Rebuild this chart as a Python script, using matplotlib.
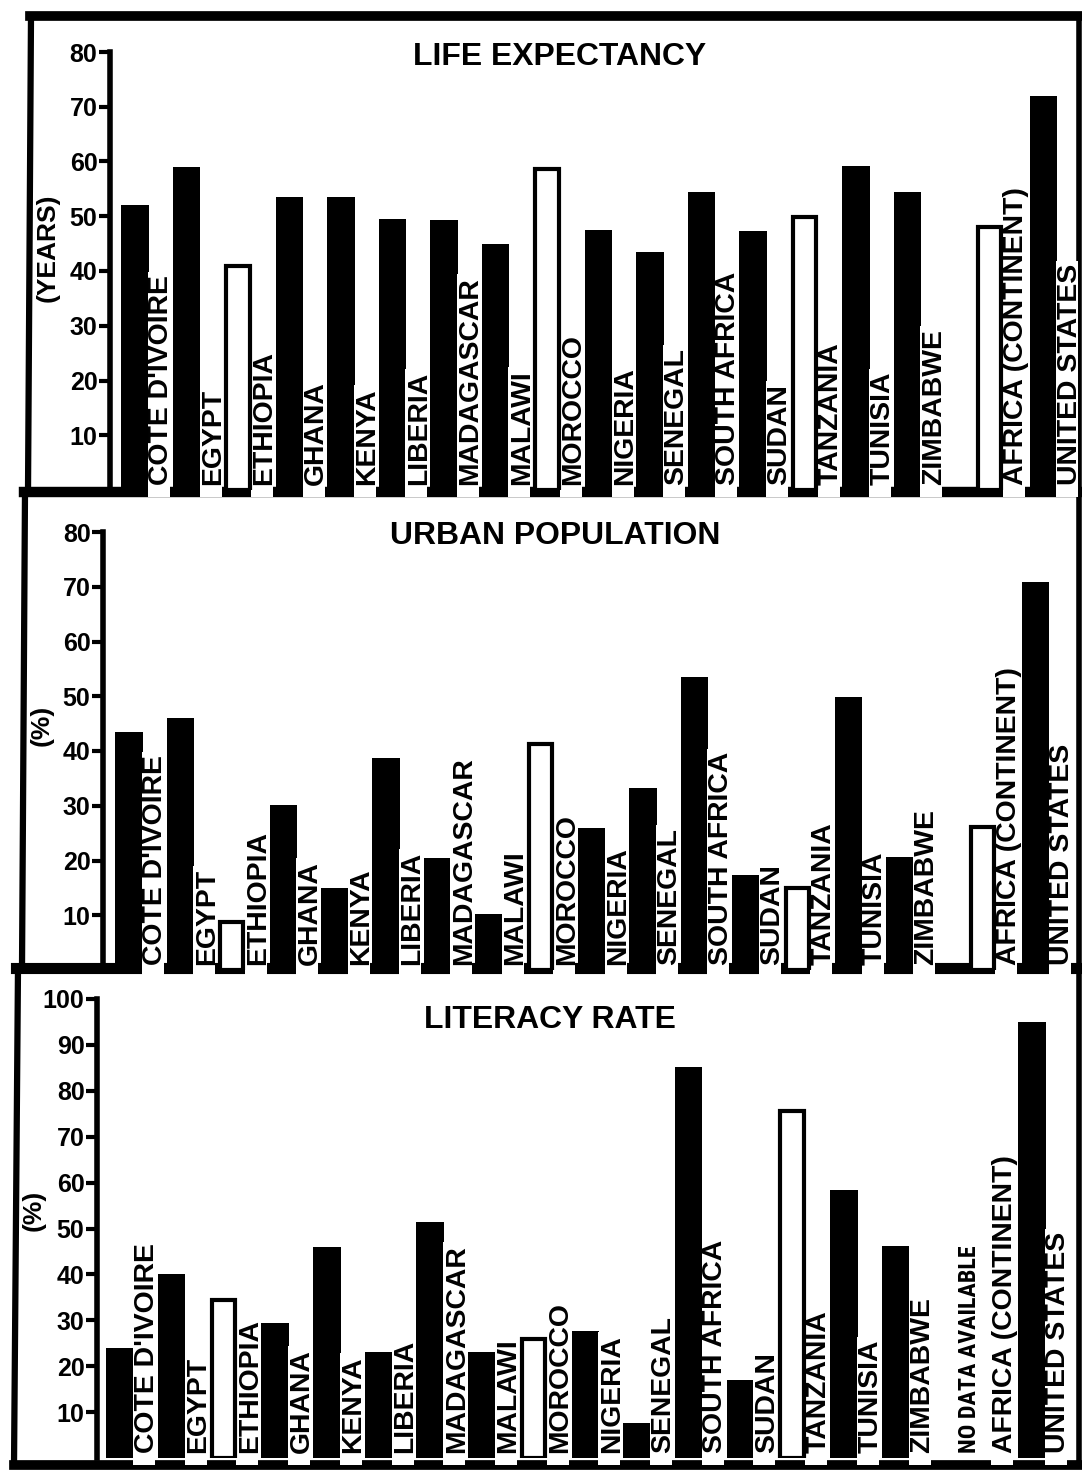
import numpy as np
import matplotlib
matplotlib.use("Agg")
import matplotlib.pyplot as plt
from matplotlib import font_manager
from matplotlib.font_manager import FontProperties
from matplotlib.patches import Rectangle
from matplotlib.transforms import offset_copy

# ---------------- data ----------------
countries = ["COTE D'IVOIRE", "EGYPT", "ETHIOPIA", "GHANA", "KENYA", "LIBERIA",
             "MADAGASCAR", "MALAWI", "MOROCCO", "NIGERIA", "SENEGAL",
             "SOUTH AFRICA", "SUDAN", "TANZANIA", "TUNISIA", "ZIMBABWE",
             "AFRICA (CONTINENT)", "UNITED STATES"]
life_expectancy = [52, 59, 41, 53.5, 53.5, 49.5, 49.3, 45, 58.7, 47.5, 43.5,
                   54.4, 47.3, 49.8, 59.2, 54.4, 48, 72]
urban_population = [43.5, 46, 8.8, 30.2, 15, 38.8, 20.5, 10.3, 41.3, 26, 33.3,
                    53.6, 17.4, 15, 49.9, 20.7, 26.1, 70.9]
literacy_rate = [24, 40, 34.5, 29.5, 46, 23, 51.4, 23.2, 26, 27.6, 7.6,
                 85.2, 17, 75.5, 58.4, 46.2, None, 95]
hollow_countries = ["ETHIOPIA", "MOROCCO", "TANZANIA", "AFRICA (CONTINENT)"]
no_data_text = "NO DATA AVAILABLE"
titles = ["LIFE EXPECTANCY", "URBAN POPULATION", "LITERACY RATE"]
axis_labels = ["(YEARS)", "(%)", "(%)"]
ticks_80 = [10, 20, 30, 40, 50, 60, 70, 80]
ticks_100 = [10, 20, 30, 40, 50, 60, 70, 80, 90, 100]

# ---------------- fonts ----------------
names = {f.name for f in font_manager.fontManager.ttflist}
main_family = 'Liberation Sans' if 'Liberation Sans' in names else 'DejaVu Sans'
label_family = main_family
narrow_family = next((n for n in ['Liberation Sans Narrow', 'Arial Narrow',
                                  'Roboto Condensed'] if n in names), main_family)
plt.rcParams['font.family'] = [main_family, 'DejaVu Sans']

W, H = 1082, 1476
fig = plt.figure(figsize=(W / 100, H / 100), dpi=100)
fig.patch.set_facecolor('white')
renderer = fig.canvas.get_renderer()


def text_extent(s, family, weight, size):
    fp = FontProperties(family=family, weight=weight, size=size)
    w, h, d = renderer.get_text_width_height_descent(s, fp, ismath=False)
    return w, h - d


def fit_width(s, target_px, family, weight):
    return 20.0 * target_px / text_extent(s, family, weight, 20.0)[0]


label_size = fit_width("COTE D'IVOIRE", 210, label_family, 'bold')
cap = text_extent("H", label_family, 'bold', label_size)[1]
nodata_size = fit_width(no_data_text, 208, narrow_family, 'bold')
cap_nd = text_extent("H", narrow_family, 'bold', nodata_size)[1]
title_size = fit_width("URBAN POPULATION", 330, main_family, 'bold')

# ---------------- background / frame ----------------
bg = fig.add_axes([0, 0, 1, 1], zorder=0)
bg.set_xlim(0, W)
bg.set_ylim(H, 0)
bg.axis('off')
k = dict(color='black', solid_capstyle='projecting')
bg.plot([30, 1079], [16, 16], lw=7, **k)
bg.plot([24, 1079], [492, 492], lw=7.5, **k)
bg.plot([16, 1079], [968, 968], lw=8, **k)
bg.plot([14, 1079], [1465, 1465], lw=7, **k)
bg.plot([31, 28], [16, 492], lw=4.5, **k)
bg.plot([25, 22], [492, 968], lw=4.5, **k)
bg.plot([18, 14], [968, 1465], lw=4.5, **k)
bg.plot([1079, 1079], [16, 1465], lw=4, **k)

positions = np.array(list(range(16)) + [16.6, 17.64])

panels = [
    dict(values=life_expectancy, ymax=80, ticks=ticks_80, L=110, top=52, base=490,
         c0=135, s=51.5, title_xy=(560, 57), ylab_xy=(48, 248)),
    dict(values=urban_population, ymax=80, ticks=ticks_80, L=103, top=532, base=970,
         c0=129, s=51.4, title_xy=(555, 536), ylab_xy=(42, 725)),
    dict(values=literacy_rate, ymax=100, ticks=ticks_100, L=97, top=999, base=1458,
         c0=120, s=51.7, title_xy=(550, 1020), ylab_xy=(34, 1210)),
]
R = 1075

for p, title, ylab in zip(panels, titles, axis_labels):
    L, top, base, s = p['L'], p['top'], p['base'], p['s']
    ax = fig.add_axes([L / W, 1 - base / H, (R - L) / W, (base - top) / H], zorder=1)
    ax.set_facecolor('none')
    x0 = -(p['c0'] - L) / s
    ax.set_xlim(x0, x0 + (R - L) / s)
    ax.set_ylim(0, p['ymax'])
    for side in ['top', 'right', 'bottom']:
        ax.spines[side].set_visible(False)
    ax.spines['left'].set_linewidth(4)
    ax.spines['left'].set_capstyle('projecting')
    ax.set_xticks([])
    ax.set_yticks(p['ticks'])
    ax.set_yticklabels([str(t) for t in p['ticks']], fontsize=18, fontweight='bold')
    ax.tick_params(axis='y', direction='out', length=8, width=3, pad=1)
    ppy = (base - top) / p['ymax']

    vals = p['values']
    solid_x = [positions[i] for i, c in enumerate(countries)
               if vals[i] is not None and c not in hollow_countries]
    solid_v = [vals[i] for i, c in enumerate(countries)
               if vals[i] is not None and c not in hollow_countries]
    hol_x = [positions[i] for i, c in enumerate(countries)
             if vals[i] is not None and c in hollow_countries]
    hol_v = [vals[i] for i, c in enumerate(countries)
             if vals[i] is not None and c in hollow_countries]
    ax.bar(solid_x, solid_v, width=0.53, color='black', zorder=2)
    ax.bar(hol_x, hol_v, width=0.45, facecolor='white', edgecolor='black',
           linewidth=3, zorder=4.5)

    for i, name in enumerate(countries):
        length = text_extent(name, label_family, 'bold', label_size)[0]
        tr = offset_copy(ax.transData, fig=fig, x=24 + cap / 2, y=5, units='dots')
        ax.text(positions[i], 0, name, rotation=90, rotation_mode='anchor',
                ha='left', va='baseline', transform=tr, fontsize=label_size,
                family=label_family, fontweight='bold', zorder=5, clip_on=False)
        ax.add_patch(Rectangle((positions[i] + (24 - cap / 2 - 1.5) / s, -7 / ppy),
                               (cap + 3) / s, (7 + 5 + length + 3) / ppy,
                               facecolor='white', edgecolor='none', zorder=4,
                               clip_on=False))
        if vals[i] is None:
            tr2 = offset_copy(ax.transData, fig=fig, x=-11 + cap_nd / 2, y=5,
                              units='dots')
            ax.text(positions[i], 0, no_data_text, rotation=90,
                    rotation_mode='anchor', ha='left', va='baseline',
                    transform=tr2, fontsize=nodata_size, family=narrow_family,
                    fontweight='bold', zorder=5, clip_on=False)

    bg.text(p['title_xy'][0], p['title_xy'][1], title, ha='center', va='center',
            fontsize=title_size, fontweight='bold', family=main_family)
    bg.text(p['ylab_xy'][0], p['ylab_xy'][1], ylab, ha='center', va='center',
            rotation=90, fontsize=19, fontweight='bold', family=main_family)

fig.savefig('out.png', dpi=100, facecolor='white')
